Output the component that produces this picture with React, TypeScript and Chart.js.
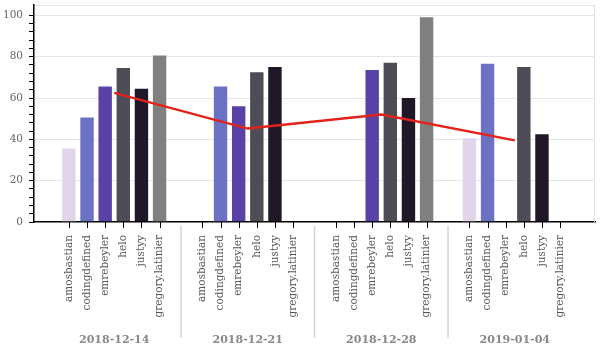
import React, { useEffect, useRef } from 'react';
import { Chart, registerables } from 'chart.js';

Chart.register(...registerables);

const dates = ['2018-12-14', '2018-12-21', '2018-12-28', '2019-01-04'];
const users = ['amosbastian', 'codingdefined', 'emrebeyler', 'helo', 'justyy', 'gregory.latinier'];

const amosbastian = [36, null, null, 41];
const codingdefined = [51, 66, null, 77];
const emrebeyler = [66, 56.5, 74, null];
const helo = [75, 73, 77.5, 75.5];
const justyy = [65, 75.5, 60.5, 43];
const gregoryLatinier = [81, null, 99.5, null];
const average = [62.5, 45.2, 52, 39.5];

const userValues = [amosbastian, codingdefined, emrebeyler, helo, justyy, gregoryLatinier];
const userColors = ['#e2d4ea', '#6c72c3', '#5a41a5', '#4e4d57', '#201729', '#808080'];

const SERIF = '"DejaVu Serif", serif';

const decor = {
  id: 'decor',
  beforeDatasetsDraw(chart: any) {
    const { ctx, chartArea } = chart;
    ctx.save();
    ctx.strokeStyle = '#e3e3e3';
    ctx.lineWidth = 1;
    ctx.beginPath();
    ctx.moveTo(chartArea.right - 0.5, chartArea.top);
    ctx.lineTo(chartArea.right - 0.5, chartArea.bottom);
    ctx.stroke();
    ctx.restore();
  },
  afterDraw(chart: any) {
    const { ctx, chartArea, scales } = chart;
    const xs = scales.x;
    ctx.save();
    users.forEach((name, i) => {
      const meta = chart.getDatasetMeta(i);
      meta.data.forEach((el: any) => {
        const px = Math.round(el.x) + 0.5;
        ctx.strokeStyle = '#000';
        ctx.lineWidth = 1;
        ctx.beginPath();
        ctx.moveTo(px, chartArea.bottom);
        ctx.lineTo(px, chartArea.bottom + 6);
        ctx.stroke();
        ctx.save();
        ctx.translate(el.x, chartArea.bottom + 13);
        ctx.rotate(-Math.PI / 2);
        ctx.textAlign = 'right';
        ctx.textBaseline = 'middle';
        ctx.fillStyle = '#555';
        ctx.font = '10.5px ' + SERIF;
        ctx.fillText(name, 0, 0);
        ctx.restore();
      });
    });
    for (let g = 0; g < dates.length - 1; g++) {
      const sx = xs.getPixelForValue(g + 0.5);
      ctx.strokeStyle = '#d4d4d4';
      ctx.lineWidth = 1.5;
      ctx.beginPath();
      ctx.moveTo(sx, chartArea.bottom + 4);
      ctx.lineTo(sx, chartArea.bottom + 116);
      ctx.stroke();
    }
    ctx.restore();
  },
};

export default function App() {
  const ref = useRef<HTMLCanvasElement | null>(null);

  useEffect(() => {
    if (!ref.current) return;
    const barSets = users.map((u, i) => ({
      type: 'bar' as const,
      label: u,
      data: userValues[i].map((v, g) => ({ x: g, y: v })),
      backgroundColor: userColors[i],
      borderColor: 'rgba(255,255,255,0.4)',
      borderWidth: 1,
      categoryPercentage: 0.815,
      barPercentage: 0.85,
      order: 1,
    }));
    const lineSet = {
      type: 'line' as const,
      label: 'average',
      data: average.map((v, g) => ({ x: g, y: v })),
      borderColor: '#e3221c',
      backgroundColor: '#e3221c',
      borderWidth: 2.5,
      pointRadius: 0,
      fill: false,
      tension: 0,
      order: 0,
    };
    const chart = new Chart(ref.current, {
      type: 'bar',
      data: { datasets: [...barSets, lineSet] as any },
      options: {
        animation: false,
        responsive: false,
        layout: { padding: { top: 5, right: 5, left: 0, bottom: 0 } },
        plugins: { legend: { display: false }, tooltip: { enabled: false } },
        scales: {
          x: {
            type: 'linear',
            offset: false,
            min: -0.601,
            max: 3.601,
            afterBuildTicks: (axis: any) => {
              axis.ticks = axis.ticks.filter((t: any) => Number.isInteger(t.value));
            },
            afterFit: (s: any) => {
              s.height = 128;
              s.paddingLeft = 0;
              s.paddingRight = 0;
            },
            ticks: {
              stepSize: 1,
              autoSkip: false,
              maxRotation: 0,
              minRotation: 0,
              padding: 3,
              color: '#888',
              font: { family: SERIF, size: 11, weight: 'bold' },
              callback: (v: any) => dates[v] ?? '',
            },
            grid: {
              display: true,
              drawOnChartArea: false,
              drawTicks: true,
              tickLength: 108.4,
              tickColor: 'rgba(0,0,0,0)',
              offset: false,
            },
            border: { display: true, color: '#000', width: 1.5 },
          },
          y: {
            min: 0,
            max: 105,
            afterFit: (s: any) => {
              s.width = 34;
              s.paddingTop = 0;
              s.paddingBottom = 0;
            },
            ticks: {
              stepSize: 4,
              autoSkip: false,
              padding: 6,
              color: '#666',
              font: { family: SERIF, size: 10.5 },
              callback: (v: any) => (v % 20 === 0 ? String(v) : ''),
            },
            grid: {
              color: (c: any) =>
                c.tick && c.tick.value > 0 && (c.tick.value % 20 === 0 || c.tick.value === 105)
                  ? '#e5e5e5'
                  : 'rgba(0,0,0,0)',
              tickColor: (c: any) => (c.tick && c.tick.value === 105 ? 'rgba(0,0,0,0)' : '#000'),
              tickLength: 5,
              tickWidth: 1,
            },
            border: { display: true, color: '#000', width: 1.5 },
          },
        },
      } as any,
      plugins: [decor],
    });
    return () => chart.destroy();
  }, []);

  return (
    <div style={{ position: 'fixed', left: 0, top: 0, width: 600, height: 350, background: '#fff' }}>
      <canvas ref={ref} width={600} height={350} />
    </div>
  );
}
